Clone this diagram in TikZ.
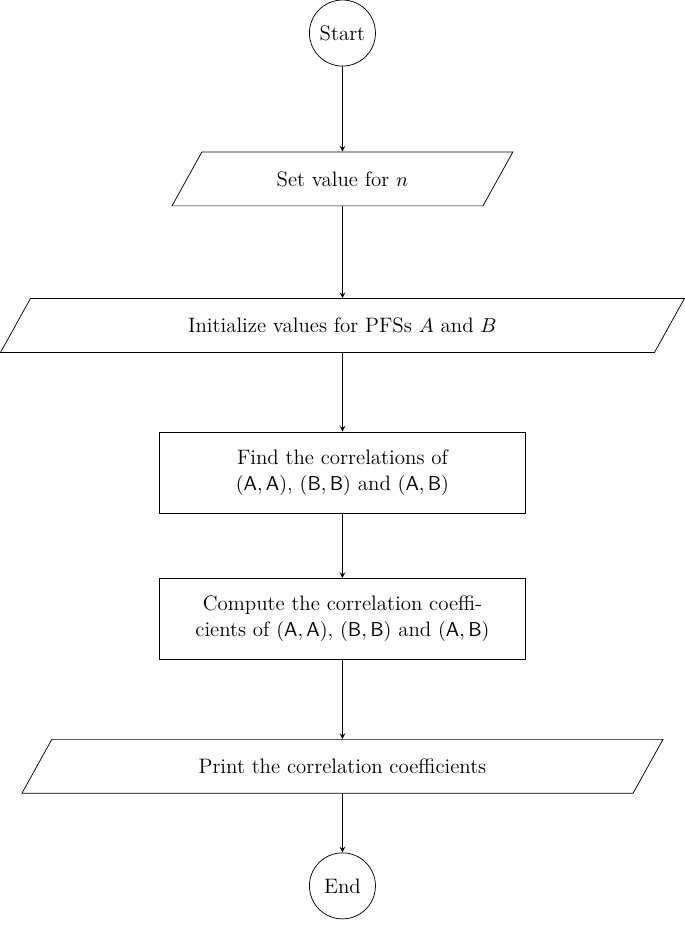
\documentclass[tikz,border=0pt]{standalone}
\usepackage{amsmath}
\usepackage{amssymb}
\usepackage{tikz}
\usetikzlibrary{shapes,arrows,positioning}

\begin{document}
\begin{tikzpicture}[
    font=\fontsize{11.4pt}{14pt}\selectfont,
    terminal/.style={draw, circle, minimum size=1.265cm, inner sep=0pt},
    io/.style={draw, trapezium, trapezium left angle=61, trapezium right angle=119,
        trapezium stretches body=true, text height=8pt, text depth=0pt,
        inner xsep=0pt, inner ysep=10.7pt},
    process/.style={draw, rectangle, minimum width=7cm, minimum height=1.55cm, align=center},
    flow/.style={->, >=stealth}
]
    % Fix the margins
    \useasboundingbox (-6.56,0) rectangle (6.56,-18.045);

    % Start and end
    \node[terminal] (start) at (0,-0.633) {Start};
    \node[terminal] (stop) at (0,-16.97) {End};

    % Input and output steps
    \node[io, minimum width=6.53cm] (setn) at (0,-3.427) {Set value for $n$};
    \node[io, minimum width=13.1cm] (init) at (0,-6.235) {Initialize values for PFSs $A$ and $B$};
    \node[io, minimum width=12.28cm] (print) at (0,-14.68) {Print the correlation coefficients};

    % Processing steps
    \node[process] (corr) at (0,-9.05)
        {Find the correlations of\\
        $(\mathsf{A},\mathsf{A})$, $(\mathsf{B},\mathsf{B})$ and $(\mathsf{A},\mathsf{B})$};
    \node[process] (coef) at (0,-11.855)
        {Compute the correlation coeffi-\\
        cients of $(\mathsf{A},\mathsf{A})$, $(\mathsf{B},\mathsf{B})$ and $(\mathsf{A},\mathsf{B})$};

    % Arrows
    \draw[flow] (start) -- (setn);
    \draw[flow] (setn) -- (init);
    \draw[flow] (init) -- (corr);
    \draw[flow] (corr) -- (coef);
    \draw[flow] (coef) -- (print);
    \draw[flow] (print) -- (stop);
\end{tikzpicture}
\end{document}
